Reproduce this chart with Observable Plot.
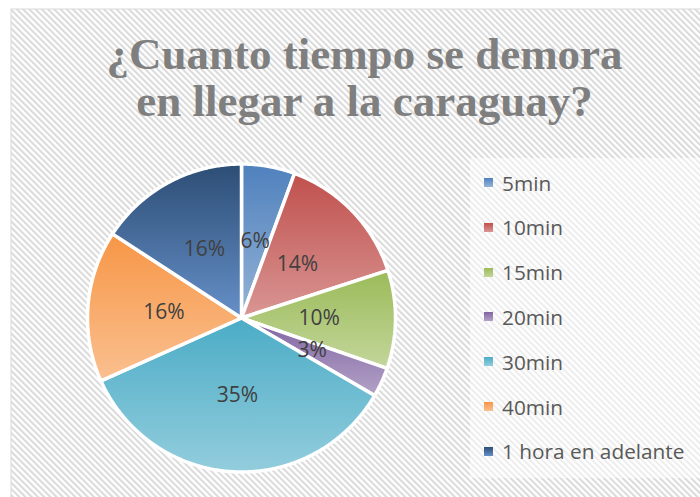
<!DOCTYPE html>
<html><head><meta charset="utf-8">
<script src="https://cdn.jsdelivr.net/npm/d3@7"></script>
<script src="https://cdn.jsdelivr.net/npm/@observablehq/plot@0.6"></script>
<style>
html,body{margin:0;padding:0;background:#fff;overflow:hidden;}
#wrap{position:relative;width:700px;height:497px;}
#wrap svg{display:block;}
#legend{position:absolute;left:470px;top:158px;width:230px;height:320px;background:rgba(255,255,255,0.5);}
.item{position:absolute;left:0;height:20px;display:flex;align-items:center;font-family:"Open Sans",sans-serif;font-size:20.8px;color:#595959;white-space:nowrap;}
.sw{width:9px;height:9px;margin-left:14px;margin-right:9px;flex:none;}
</style></head>
<body><div id="wrap"></div>
<script>
// ---- data ----
const categories = ["5min", "10min", "15min", "20min", "30min", "40min", "1 hora en adelante"];
const values = [5.6, 14.4, 10.3, 3.1, 34.9, 15.9, 15.8];
const topColors = ["#4F81BD", "#C0504D", "#9BBB59", "#8064A2", "#4BACC6", "#F79646", "#2C4D75"];
const bottomColors = ["#95B3D7", "#D99694", "#C3D69B", "#B3A2C7", "#93CDDD", "#FAC090", "#6690C8"];
const titleText = "¿Cuanto tiempo se demora\nen llegar a la caraguay?";

// ---- layout ----
const W = 700, H = 497, mL = 10, mT = 8;
const cx = 241, cy = 317.5, R = 154;

const total = d3.sum(values);
const arcs = d3.pie().sort(null).value(d => d).startAngle(0).endAngle(2 * Math.PI)(values);
const slices = arcs.map((a, i) => {
  const pts = [{x: 0, y: 0}];
  const n = Math.max(2, Math.ceil((a.endAngle - a.startAngle) / (Math.PI / 360)));
  for (let k = 0; k <= n; k++) {
    const t = a.startAngle + (a.endAngle - a.startAngle) * k / n;
    pts.push({x: Math.sin(t), y: Math.cos(t)});
  }
  pts.push({x: 0, y: 0});
  const mid = (a.startAngle + a.endAngle) / 2;
  return {
    key: categories[i], pts,
    lx: 0.505 * Math.sin(mid), ly: 0.505 * Math.cos(mid),
    label: Math.round(values[i] / total * 100) + "%"
  };
});

const defs = () => {
  const d = d3.create("svg:defs");
  const p = d.append("pattern").attr("id", "hatch").attr("patternUnits", "userSpaceOnUse")
    .attr("width", 4.4).attr("height", 10).attr("patternTransform", "rotate(-45)");
  p.append("rect").attr("width", 4.4).attr("height", 10).attr("fill", "#ffffff");
  p.append("rect").attr("width", 2).attr("height", 10).attr("fill", "#dadada");
  categories.forEach((c, i) => {
    const g = d.append("linearGradient").attr("id", "g" + i)
      .attr("x1", 0).attr("y1", 0).attr("x2", 0).attr("y2", 1);
    g.append("stop").attr("offset", 0).attr("stop-color", topColors[i]);
    g.append("stop").attr("offset", 1).attr("stop-color", bottomColors[i]);
  });
  return d.node();
};

const chart = Plot.plot({
  width: W, height: H,
  marginLeft: mL, marginTop: mT, marginRight: 0, marginBottom: 0,
  x: {domain: [(mL - cx) / R, (W - cx) / R], axis: null},
  y: {domain: [(cy - H) / R, (cy - mT) / R], axis: null},
  style: {background: "transparent", overflow: "visible"},
  marks: [
    defs,
    Plot.frame({fill: "url(#hatch)", stroke: "#d9d9d9", strokeWidth: 1, insetLeft: 0.5, insetTop: 0.5, insetRight: -3, insetBottom: -3}),
    ...slices.map((s, i) => Plot.line(s.pts, {
      x: "x", y: "y", fill: `url(#g${i})`, stroke: "white", strokeWidth: 3.5, strokeLinejoin: "miter"
    })),
    Plot.text(slices, {
      x: "lx", y: "ly", text: "label", fontSize: 21, fontFamily: "Open Sans", fill: "#404040"
    }),
    Plot.text([titleText], {
      frameAnchor: "top", lineAnchor: "top", dx: 9, dy: 27,
      fontSize: 45, fontWeight: "bold", fontFamily: "Liberation Serif", fill: "#7f7f7f", lineHeight: 1.045
    })
  ]
});

const wrap = document.getElementById("wrap");
wrap.appendChild(chart);

// legend
const lg = d3.select(wrap).append("div").attr("id", "legend");
categories.forEach((c, i) => {
  const it = lg.append("div").attr("class", "item").style("top", (24.5 + i * 44.8 - 10) + "px");
  it.append("div").attr("class", "sw")
    .style("background", `linear-gradient(${topColors[i]}, ${bottomColors[i]})`);
  it.append("span").text(c);
});
</script>
</body></html>
